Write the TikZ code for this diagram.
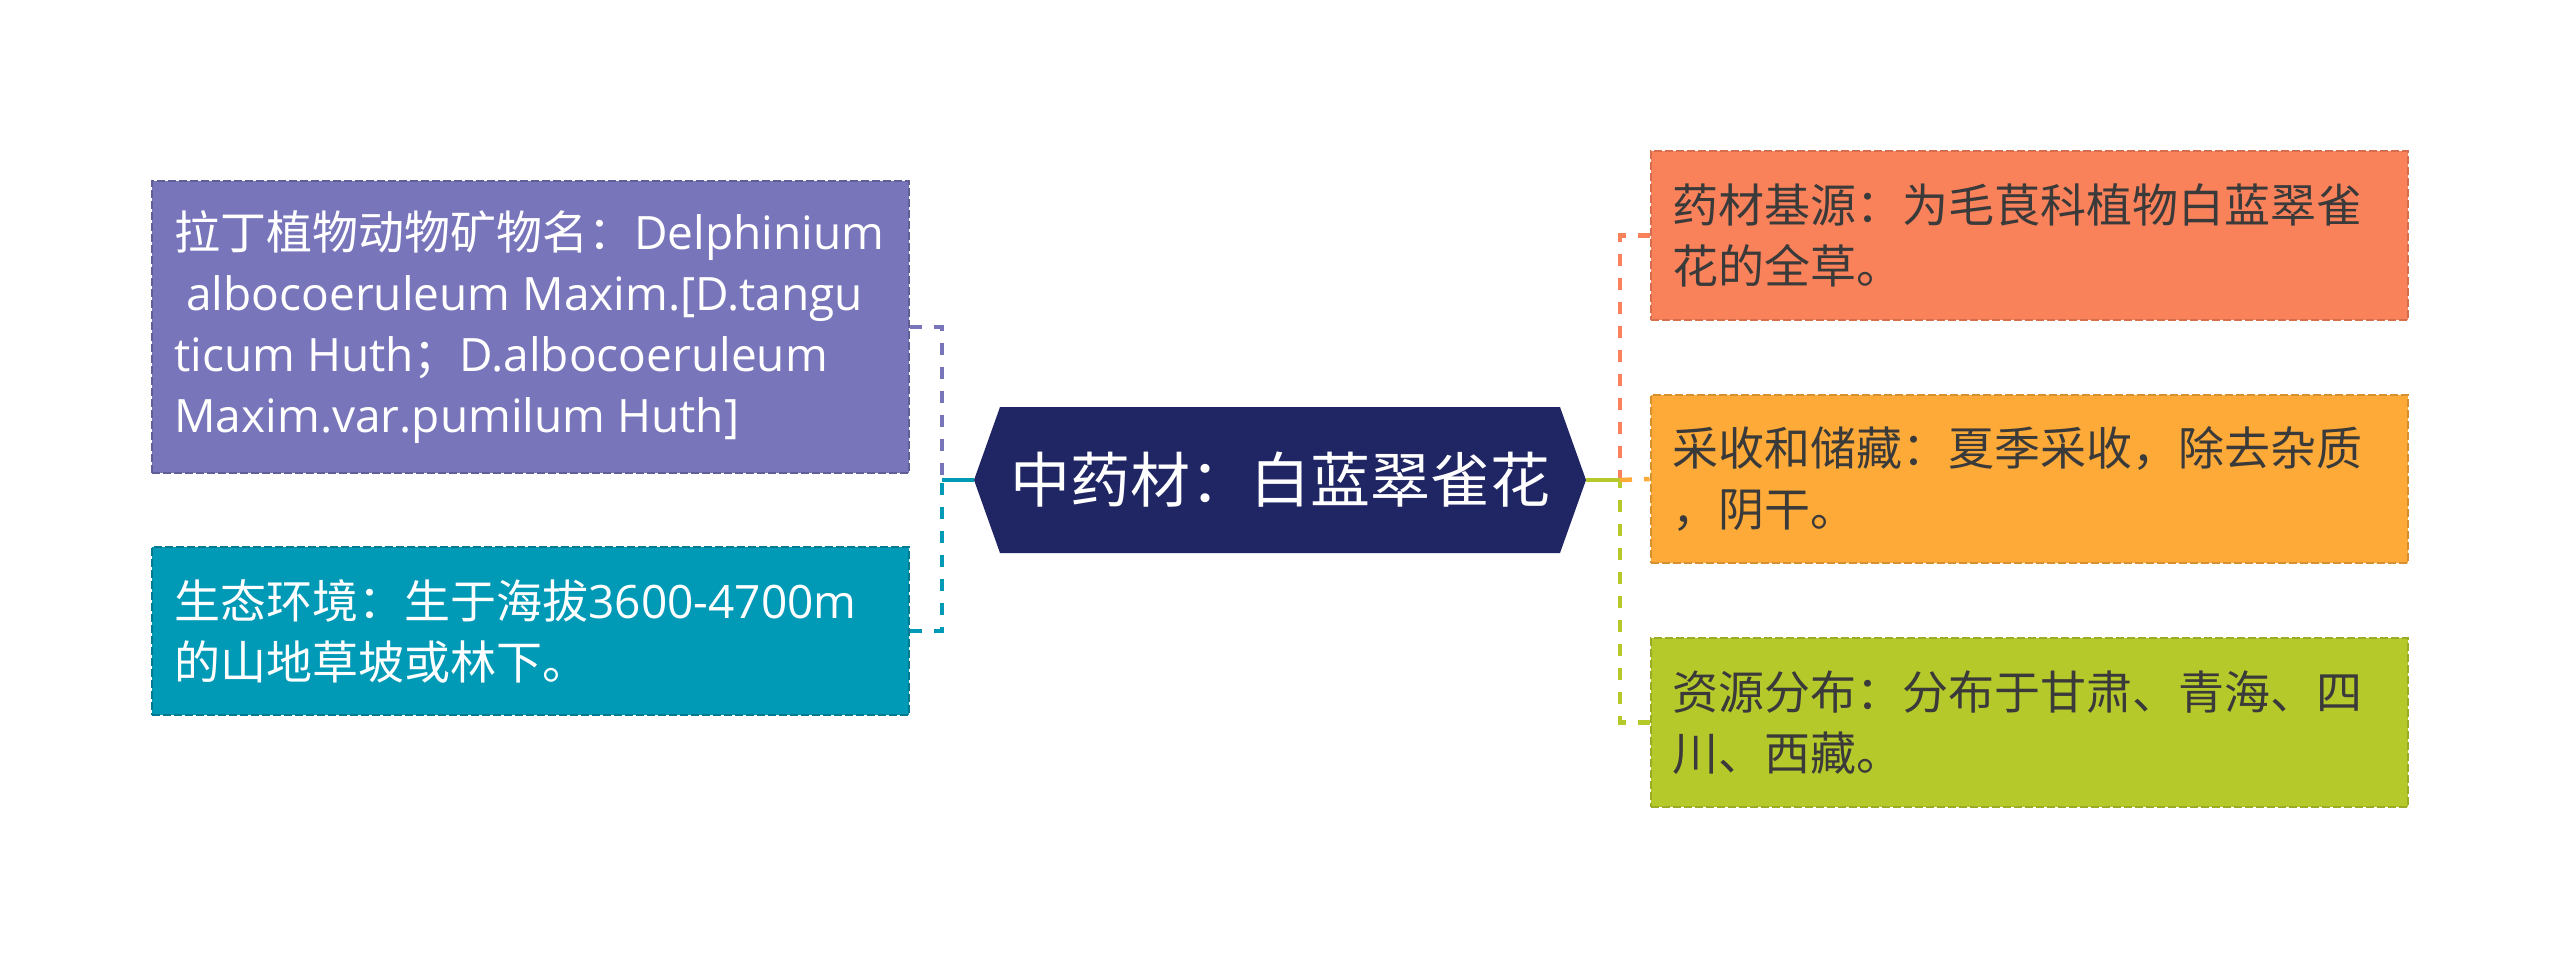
\documentclass[tikz,border=0pt]{standalone}
\usepackage{fontspec}
\setmainfont{Open Sans}
\newfontfamily\zhf{Noto Sans CJK SC}
\newcommand\zh[1]{{\zhf #1}}
\definecolor{cpurple}{RGB}{120,117,187}
\definecolor{cteal}{RGB}{0,153,182}
\definecolor{cnavy}{RGB}{32,38,100}
\definecolor{cred}{RGB}{249,130,90}
\definecolor{corange}{RGB}{253,170,56}
\definecolor{cgreen}{RGB}{182,201,43}
\definecolor{ctext}{RGB}{58,58,58}
\tikzset{
  box/.style={rectangle, inner sep=0pt, minimum width=378.5pt, line width=1pt, dash pattern=on 4pt off 1.5pt},
  boxtext/.style={anchor=west, inner sep=0pt, align=left, font=\fontsize{23pt}{30.5pt}\selectfont},
  conn/.style={line width=2.25pt, dash pattern=on 6pt off 6pt},
  solidconn/.style={line width=2.25pt}
}
\begin{document}
\begin{tikzpicture}[x=0.5pt,y=-0.5pt]
\useasboundingbox (0,0) rectangle (2560,960);

% centre hexagon
\coordinate (hexL) at (974,480);
\coordinate (hexR) at (1586,480);
\fill[cnavy] (hexL) -- (1000,407) -- (1560,407) -- (hexR) -- (1560,553) -- (1000,553) -- cycle;
\node[text=white, inner sep=0pt, font=\fontsize{30pt}{36pt}\selectfont] (center) at (1280,480) {\zh{中药材：白蓝翠雀花}};

% left boxes
\node[box, fill=cpurple, draw=cpurple!80!black, minimum height=146pt] (lb1) at (530.5,327) {};
\node[boxtext, text=white] (lt1) at ([xshift=11.5pt]lb1.west)
  {\zh{拉丁植物动物矿物名：}Delphinium\\\hspace*{6pt}albocoeruleum Maxim.[D.tangu\\ticum Huth\zh{；}D.albocoeruleum\\Maxim.var.pumilum Huth]};
\node[box, fill=cteal, draw=cteal!80!black, minimum height=84pt] (lb2) at (530.5,631) {};
\node[boxtext, text=white] (lt2) at ([xshift=11.5pt]lb2.west)
  {\zh{生态环境：生于海拔}3600-4700m\\\zh{的山地草坡或林下。}};

% right boxes
\node[box, fill=cred, draw=cred!85!black, minimum height=84.5pt] (rb1) at (2029,235.5) {};
\node[boxtext, text=ctext] (rt1) at ([xshift=11.5pt]rb1.west)
  {\zh{药材基源：为毛茛科植物白蓝翠雀}\\\zh{花的全草。}};
\node[box, fill=corange, draw=corange!85!black, minimum height=84pt] (rb2) at (2029,479) {};
\node[boxtext, text=ctext] (rt2) at ([xshift=11.5pt]rb2.west)
  {\zh{采收和储藏：夏季采收，除去杂质}\\\zh{，阴干。}};
\node[box, fill=cgreen, draw=cgreen!85!black, minimum height=84.5pt] (rb3) at (2029,722.5) {};
\node[boxtext, text=ctext] (rt3) at ([xshift=11.5pt]rb3.west)
  {\zh{资源分布：分布于甘肃、青海、四}\\\zh{川、西藏。}};

% connectors left
\coordinate (jl) at (942,480);
\draw[conn, cpurple] (lb1.east) -| (jl);
\draw[conn, cteal] (lb2.east) -| (jl);
\draw[solidconn, cteal] (jl) -- (hexL);

% connectors right
\coordinate (jr) at (1620,480);
\draw[conn, cred] (rb1.west) -| (jr);
\draw[conn, cgreen] (rb3.west) -| (jr);
\draw[conn, corange] (jr) -- (rb2.west);
\draw[solidconn, cgreen] (hexR) -- (jr);
\end{tikzpicture}
\end{document}
